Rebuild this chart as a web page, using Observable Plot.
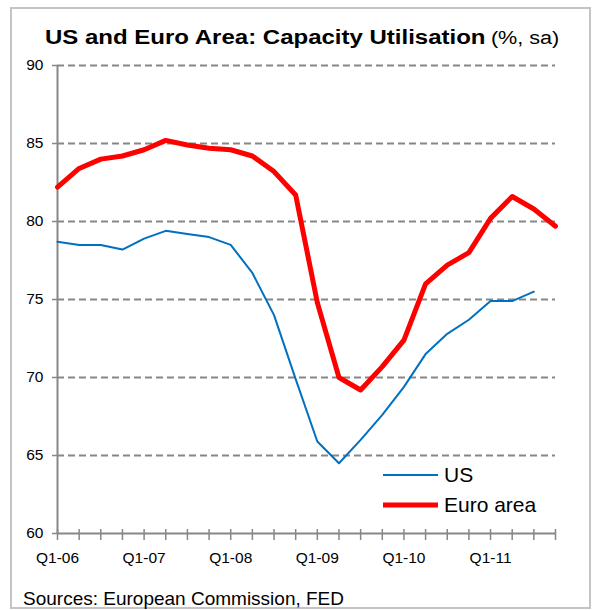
<!DOCTYPE html>
<html>
<head>
<meta charset="utf-8">
<script src="https://cdn.jsdelivr.net/npm/d3@7"></script>
<script src="https://cdn.jsdelivr.net/npm/@observablehq/plot@0.6"></script>
<style>
  html, body { margin: 0; padding: 0; background: #fff; }
  body { width: 592px; height: 610px; overflow: hidden; font-family: "Liberation Sans", Arial, sans-serif; }
  #wrap { position: relative; width: 592px; height: 610px; }
  #frame { position: absolute; left: 10px; top: 7px; width: 577px; height: 598px; border: 2px solid #c4c4c4; box-sizing: content-box; }
  #title { position: absolute; left: 45px; top: 27px; white-space: nowrap; line-height: 20px; color: #000; transform: scaleX(1.2); transform-origin: 0 0; }
  #title b { font-size: 20px; font-weight: bold; }
  #title span { font-size: 18px; font-weight: normal; }
  #chart { position: absolute; left: 0; top: 55px; width: 592px; }
  #chart svg { max-width: none !important; }
  #chart svg text { font-size: 15.5px; }
  .leg { position: absolute; left: 383px; display: flex; align-items: center; font-size: 21px; line-height: 21px; color: #000; }
  .leg svg { margin-right: 6px; }
  #caption { position: absolute; left: 23px; top: 589px; font-size: 19px; line-height: 19px; color: #000; white-space: nowrap; }
</style>
</head>
<body>
<div id="wrap">
  <div id="frame"></div>
  <div id="title"><b>US and Euro Area: Capacity Utilisation</b> <span>(%, sa)</span></div>
  <div id="chart"></div>
  <div class="leg" id="legUS" style="top:464px"></div>
  <div class="leg" id="legEU" style="top:494px"></div>
  <div id="caption">Sources: European Commission, FED</div>
</div>
<script>
// Quarterly categories Q1-06 .. Q4-11
const quarters = [
  "Q1-06","Q2-06","Q3-06","Q4-06",
  "Q1-07","Q2-07","Q3-07","Q4-07",
  "Q1-08","Q2-08","Q3-08","Q4-08",
  "Q1-09","Q2-09","Q3-09","Q4-09",
  "Q1-10","Q2-10","Q3-10","Q4-10",
  "Q1-11","Q2-11","Q3-11","Q4-11"
];
// US capacity utilisation (%), through Q3-11
const us = [78.7, 78.5, 78.5, 78.2, 78.9, 79.4, 79.2, 79.0, 78.5, 76.7, 74.0, 69.9,
            65.9, 64.5, 66.0, 67.6, 69.4, 71.5, 72.8, 73.7, 74.9, 74.9, 75.5];
// Euro area capacity utilisation (%)
const euro = [82.2, 83.4, 84.0, 84.2, 84.6, 85.2, 84.9, 84.7, 84.6, 84.2, 83.2, 81.7,
              74.8, 70.0, 69.2, 70.7, 72.4, 76.0, 77.2, 78.0, 80.2, 81.6, 80.8, 79.7];
const yTicks = [60, 65, 70, 75, 80, 85, 90];
const xLabels = ["Q1-06","Q1-07","Q1-08","Q1-09","Q1-10","Q1-11"];
const seriesNames = ["US", "Euro area"];
const seriesColors = ["#0070C0", "#FF0000"];
const seriesWidths = [2, 5];

const usData = us.map((v, i) => ({q: quarters[i], v}));
const euroData = euro.map((v, i) => ({q: quarters[i], v}));

const chart = Plot.plot({
  width: 592,
  height: 513,
  marginLeft: 57,
  marginRight: 37,
  marginTop: 10,
  marginBottom: 35,
  style: {fontFamily: "'Liberation Sans', Arial, sans-serif", fontSize: "15.5px", color: "#000", background: "transparent"},
  x: {type: "point", domain: quarters, padding: 0, round: false},
  y: {domain: [60, 90]},
  marks: [
    Plot.ruleY(yTicks.filter(d => d > 60), {stroke: "#878787", strokeWidth: 2, strokeDasharray: "7,4"}),
    Plot.axisY({ticks: yTicks, tickSize: 5, tickPadding: 9, stroke: "#878787", strokeWidth: 1.5, label: null, fill: "#000"}),
    Plot.axisX({tickSize: 7, tickPadding: 11, stroke: "#878787", strokeWidth: 1.5, label: null, fill: "#000",
                tickFormat: d => xLabels.includes(d) ? d : ""}),
    Plot.axisX({tickSize: -4, text: null, stroke: "#878787", strokeWidth: 1.5, label: null}),
    Plot.ruleY([60], {stroke: "#878787", strokeWidth: 2}),
    Plot.ruleX([quarters[0]], {stroke: "#878787", strokeWidth: 2}),
    Plot.line(usData, {x: "q", y: "v", stroke: seriesColors[0], strokeWidth: seriesWidths[0]}),
    Plot.line(euroData, {x: "q", y: "v", stroke: seriesColors[1], strokeWidth: seriesWidths[1]})
  ]
});
document.getElementById("chart").appendChild(chart);

function legendItem(id, i) {
  const el = document.getElementById(id);
  el.innerHTML = `<svg width="55" height="10"><line x1="0" x2="55" y1="5" y2="5" stroke="${seriesColors[i]}" stroke-width="${seriesWidths[i]}"/></svg><span>${seriesNames[i]}</span>`;
}
legendItem("legUS", 0);
legendItem("legEU", 1);
</script>
</body>
</html>
